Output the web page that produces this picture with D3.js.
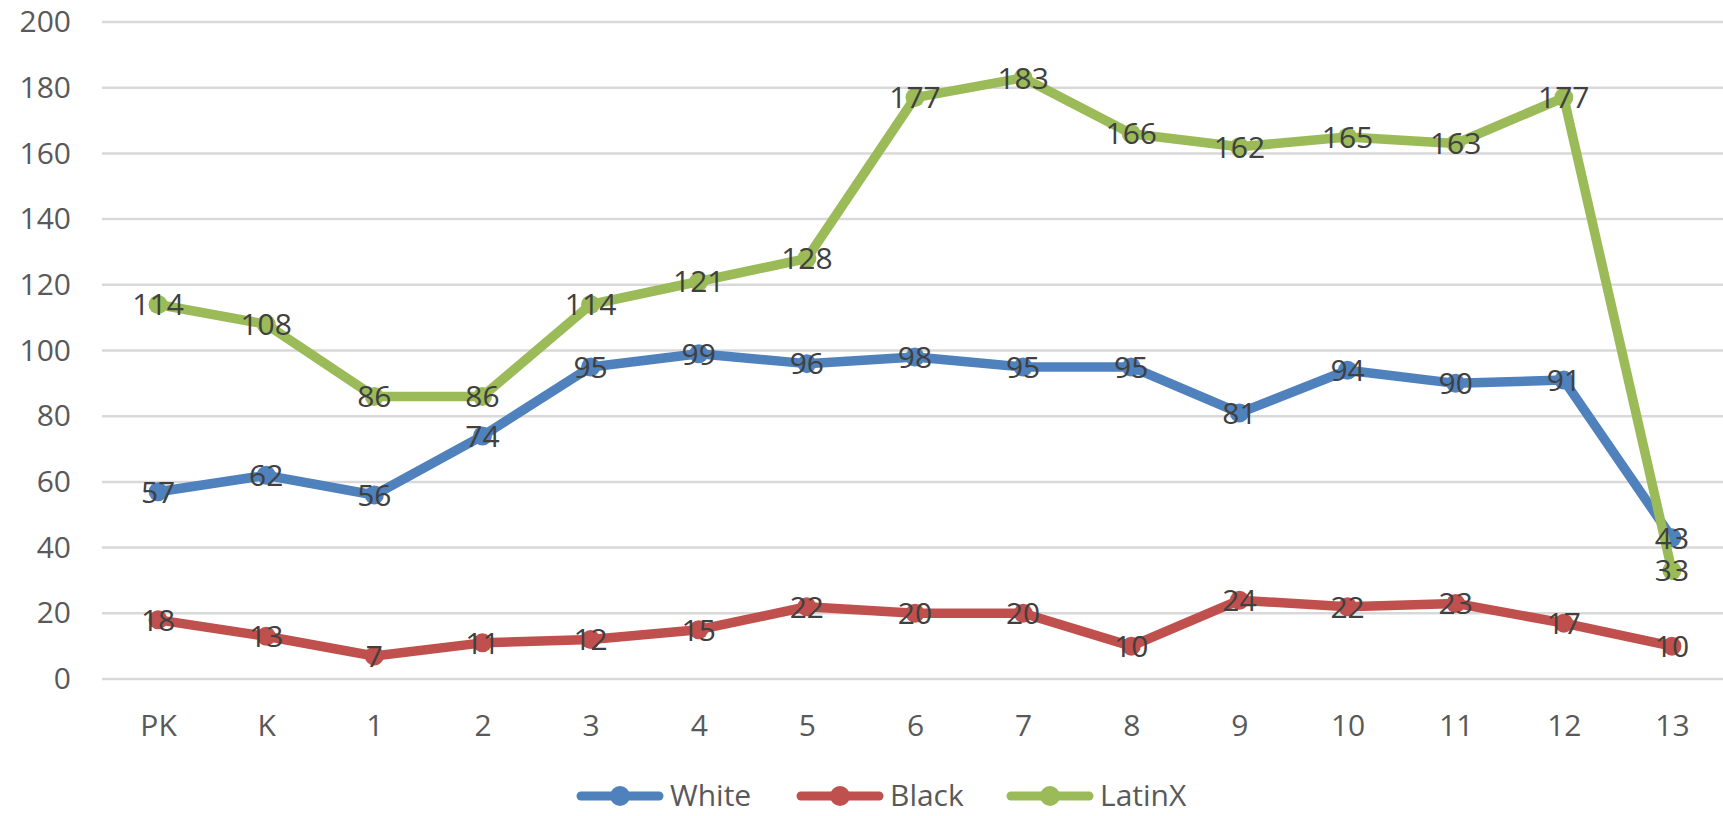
<!DOCTYPE html>
<html>
<head>
<meta charset="utf-8">
<script src="https://cdn.jsdelivr.net/npm/d3@7"></script>
<style>
  html, body { margin: 0; padding: 0; background: #fff; }
  svg { display: block; }
</style>
</head>
<body>
<svg id="chart" width="1723" height="816"></svg>
<script>
// Grade levels along the x axis
const grades = ["PK", "K", "1", "2", "3", "4", "5", "6", "7", "8", "9", "10", "11", "12", "13"];
// Student counts per grade
const white  = [57, 62, 56, 74, 95, 99, 96, 98, 95, 95, 81, 94, 90, 91, 43];
const black  = [18, 13, 7, 11, 12, 15, 22, 20, 20, 10, 24, 22, 23, 17, 10];
const latinx = [114, 108, 86, 86, 114, 121, 128, 177, 183, 166, 162, 165, 163, 177, 33];
const yTicks = [0, 20, 40, 60, 80, 100, 120, 140, 160, 180, 200];

const seriesNames = ["White", "Black", "LatinX"];
const seriesColors = ["#4f81bd", "#c0504d", "#9bbb59"];
const seriesValues = [white, black, latinx];

const svg = d3.select("#chart");
const font = "'Open Sans', 'Liberation Sans', sans-serif";
const fontSize = 30;

const plotLeft = 104, plotRight = 1726, plotTop = 22, plotBottom = 679;
const gridRight = 1723;

const x = d3.scalePoint().domain(grades).range([plotLeft, plotRight]).padding(0.5);
const y = d3.scaleLinear().domain([0, 200]).range([plotBottom, plotTop]);

// Horizontal gridlines
svg.append("g").selectAll("line").data(yTicks).join("line")
  .attr("x1", plotLeft - 2).attr("x2", gridRight)
  .attr("y1", d => y(d)).attr("y2", d => y(d))
  .attr("stroke", "#d9d9d9").attr("stroke-width", 2.5);

// Y axis labels
const yAxis = svg.append("g").attr("transform", `translate(71,0)`)
  .call(d3.axisLeft(y).tickValues(yTicks).tickSize(0).tickPadding(0));
yAxis.select(".domain").remove();
yAxis.selectAll("text")
  .attr("font-family", font).attr("font-size", fontSize).attr("fill", "#595959");

// X axis labels
const xAxis = svg.append("g").attr("transform", `translate(0,${plotBottom})`)
  .call(d3.axisBottom(x).tickSize(0).tickPadding(36));
xAxis.select(".domain").remove();
xAxis.selectAll("text")
  .attr("font-family", font).attr("font-size", fontSize).attr("fill", "#595959");

const line = d3.line().x((d, i) => x(grades[i])).y(d => y(d));

// Series lines and markers
seriesValues.forEach((vals, s) => {
  const g = svg.append("g");
  g.append("path").datum(vals)
    .attr("d", line)
    .attr("fill", "none")
    .attr("stroke", seriesColors[s])
    .attr("stroke-width", 9.5)
    .attr("stroke-linejoin", "round")
    .attr("stroke-linecap", "round");
  g.selectAll("circle").data(vals).join("circle")
    .attr("cx", (d, i) => x(grades[i]))
    .attr("cy", d => y(d))
    .attr("r", 9.5)
    .attr("fill", seriesColors[s]);
});

// Value labels centred on each point
seriesValues.forEach((vals) => {
  svg.append("g").selectAll("text").data(vals).join("text")
    .attr("x", (d, i) => x(grades[i]))
    .attr("y", d => y(d))
    .attr("dy", "0.36em")
    .attr("text-anchor", "middle")
    .attr("font-family", font)
    .attr("font-size", fontSize)
    .attr("fill", "#404040")
    .text(d => d);
});

// Legend
const legendItems = [
  { name: seriesNames[0], color: seriesColors[0], x: 577 },
  { name: seriesNames[1], color: seriesColors[1], x: 797 },
  { name: seriesNames[2], color: seriesColors[2], x: 1007 }
];
const legendY = 796;
const lg = svg.append("g");
legendItems.forEach(it => {
  lg.append("line")
    .attr("x1", it.x + 4).attr("x2", it.x + 82)
    .attr("y1", legendY).attr("y2", legendY)
    .attr("stroke", it.color).attr("stroke-width", 9)
    .attr("stroke-linecap", "round");
  lg.append("circle")
    .attr("cx", it.x + 43).attr("cy", legendY).attr("r", 10)
    .attr("fill", it.color);
  lg.append("text")
    .attr("x", it.x + 93).attr("y", legendY)
    .attr("dy", "0.33em")
    .attr("font-family", font).attr("font-size", fontSize)
    .attr("fill", "#595959")
    .text(it.name);
});
</script>
</body>
</html>
